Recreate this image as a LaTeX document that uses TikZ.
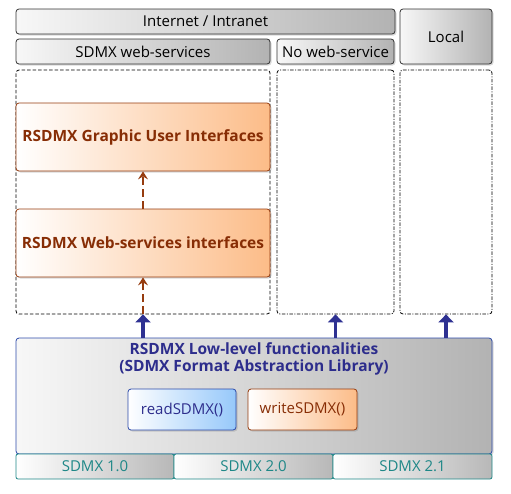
\documentclass[tikz,border=0pt]{standalone}
\usepackage{fontspec}
\setmainfont{Open Sans}
\usetikzlibrary{arrows.meta,shadows}
\definecolor{brownline}{RGB}{150,60,15}
\definecolor{browntext}{RGB}{135,45,5}
\definecolor{peach}{RGB}{252,188,136}
\definecolor{bluetext}{RGB}{45,45,140}
\definecolor{blueline}{RGB}{45,75,170}
\definecolor{skyblue}{RGB}{150,200,250}
\definecolor{tealline}{RGB}{30,135,135}
\definecolor{arrowblue}{RGB}{46,49,146}
\begin{document}
\begin{tikzpicture}[x=1pt,y=-1pt]
                \tikzset{every node/.style={font=\fontsize{15}{17}\selectfont, inner sep=0pt},
                  graybox/.style={draw=black!80, line width=0.8pt, rounded corners=3pt, left color=black!3, right color=black!30,
                    drop shadow={shadow xshift=1.5pt, shadow yshift=-1.5pt, opacity=0.3}},
                  orangebox/.style={draw=brownline, line width=0.8pt, rounded corners=3pt, left color=white, right color=peach,
                    text=browntext, font=\fontsize{15.5}{17}\selectfont\bfseries,
                    drop shadow={shadow xshift=1.5pt, shadow yshift=-1.5pt, opacity=0.3}},
                  bluebox/.style={draw=blueline, line width=0.8pt, rounded corners=3pt, left color=white, right color=skyblue,
                    text=bluetext, drop shadow={shadow xshift=1.5pt, shadow yshift=-1.5pt, opacity=0.3}},
                  versionbox/.style={draw=tealline, line width=0.8pt, rounded corners=2pt, left color=white, right color=black!28,
                    text=tealline},
                  zone/.style={draw=black, rounded corners=3pt, line width=0.8pt},
                  usesarrow/.style={draw=brownline, line width=1.8pt, dash pattern=on 8pt off 4pt,
                    -{Stealth[length=8pt,width=10pt,inset=3pt]}},
                  feedarrow/.style={draw=arrowblue, line width=3.5pt, -{Triangle[length=8pt,width=15pt]}}}
                \useasboundingbox (0,0) rectangle (511,493);
                % top headers
                \node[graybox, minimum width=379pt, minimum height=25pt] (inet) at (205.5,21.5) {Internet / Intranet};
                \node[graybox, minimum width=254pt, minimum height=25pt] (websrv) at (143,51.5) {SDMX web-services};
                \node[graybox, minimum width=117pt, minimum height=25pt] (nows) at (335.5,51.5) {No web-service};
                \node[graybox, minimum width=92pt, minimum height=55pt] (local) at (446,36.5) {Local};
                % dashed zones
                \node[zone, dash pattern=on 3.5pt off 2pt, minimum width=254pt, minimum height=244pt] (zoneA) at (143,192) {};
                \node[zone, dash pattern=on 3.5pt off 1.5pt on 1pt off 1.5pt, minimum width=117pt, minimum height=244pt] (zoneB) at (335.5,192) {};
                \node[zone, dash pattern=on 3.5pt off 1.5pt on 1pt off 1.5pt, minimum width=92pt, minimum height=244pt] (zoneC) at (446,192) {};
                % interfaces
                \node[orangebox, minimum width=254pt, minimum height=68pt] (gui) at (143,137) {RSDMX Graphic User Interfaces};
                \node[orangebox, minimum width=254pt, minimum height=68pt] (wsi) at (143,243) {RSDMX Web-services interfaces};
                % low-level library
                \node[graybox, draw=blueline, minimum width=476pt, minimum height=116pt] (lowlvl) at (254,396) {};
                \node[text=bluetext, font=\fontsize{15.5}{17.5}\selectfont\bfseries, align=center] (lowtitle) at (254,359)
                  {RSDMX Low-level functionalities\\(SDMX Format Abstraction Library)};
                \node[bluebox, minimum width=108pt, minimum height=41pt] (read) at (182,409.5) {readSDMX()};
                \node[orangebox, font=\fontsize{15}{17}\selectfont, minimum width=109pt, minimum height=41pt] (write) at (302.5,409.5) {writeSDMX()};
                % versions
                \node[versionbox, minimum width=158pt, minimum height=25pt] (v10) at (95,466.5) {SDMX 1.0};
                \node[versionbox, minimum width=159pt, minimum height=25pt] (v20) at (253.5,466.5) {SDMX 2.0};
                \node[versionbox, minimum width=159pt, minimum height=25pt] (v21) at (412.5,466.5) {SDMX 2.1};
                % connectors
                \draw[usesarrow] (wsi.north) -- (gui.south);
                \draw[usesarrow] (zoneA.south) -- (wsi.south);
                \draw[feedarrow] (lowlvl.north -| zoneA.south) -- (zoneA.south);
                \draw[feedarrow] (lowlvl.north -| zoneB.south) -- (zoneB.south);
                \draw[feedarrow] (lowlvl.north -| zoneC.south) -- (zoneC.south);
            \end{tikzpicture}
\end{document}
